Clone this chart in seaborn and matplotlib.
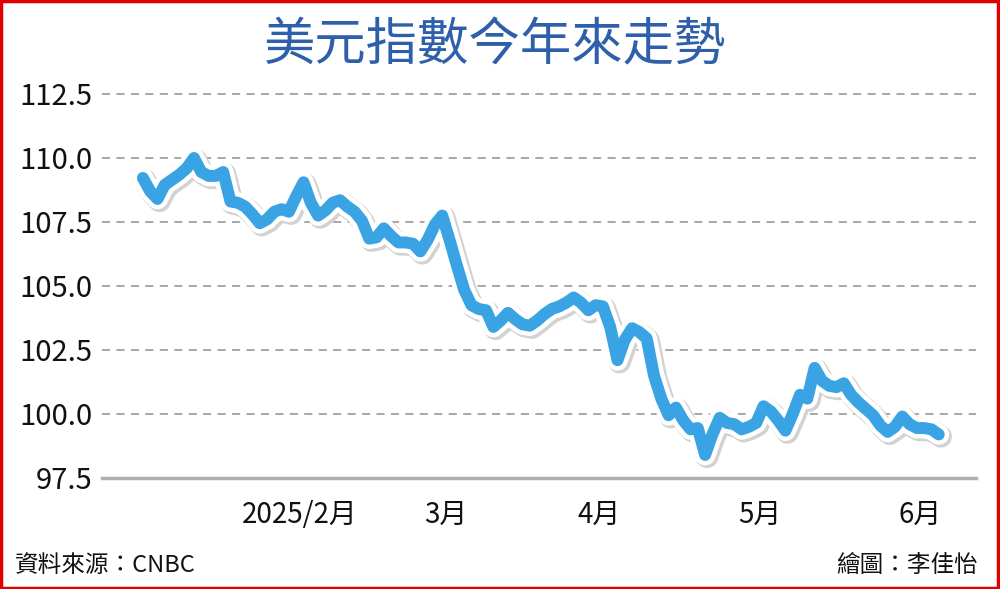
import numpy as np
import pandas as pd
import matplotlib
matplotlib.use('Agg')
from matplotlib import pyplot as plt
from matplotlib import patheffects as pe
from matplotlib.patches import Rectangle
import seaborn as sns

# 美元指數 每個交易日 (2025/1/2 起)
dxy = [109.22, 108.7, 108.4, 108.95, 109.15, 109.35, 109.6, 110.0, 109.45, 109.3,
       109.3, 109.45, 108.3, 108.25, 108.1, 107.8, 107.45, 107.6, 107.9, 108.0,
       107.9, 108.5, 109.05, 108.25, 107.75, 107.95, 108.25, 108.35, 108.1, 107.9,
       107.55, 106.85, 106.9, 107.25, 106.95, 106.7, 106.7, 106.65, 106.35, 106.8,
       107.4, 107.75, 106.8, 105.8, 104.85, 104.25, 104.1, 104.05, 103.4, 103.65,
       103.95, 103.7, 103.5, 103.45, 103.65, 103.9, 104.1, 104.2, 104.35, 104.55,
       104.35, 104.05, 104.25, 104.2, 103.4, 102.1, 102.9, 103.35, 103.2, 102.95,
       101.5, 100.6, 99.95, 100.25, 99.75, 99.4, 99.45, 98.4, 99.2, 99.85,
       99.65, 99.6, 99.4, 99.5, 99.65, 100.3, 100.1, 99.75, 99.35, 100.0,
       100.75, 100.6, 101.8, 101.3, 101.1, 101.05, 101.2, 100.75, 100.45, 100.2,
       99.95, 99.55, 99.3, 99.5, 99.9, 99.6, 99.45, 99.45, 99.4, 99.2]
dates = pd.bdate_range('2025-01-02', periods=len(dxy))

month_starts = ['2025-02-01', '2025-03-01', '2025-04-01', '2025-05-01', '2025-06-01']
month_labels = ['2025/2月', '3月', '4月', '5月', '6月']
y_ticks = [97.5, 100.0, 102.5, 105.0, 107.5, 110.0, 112.5]

df = pd.DataFrame({'day': np.arange(len(dxy)), 'dxy': dxy})
tick_pos = [dates.searchsorted(pd.Timestamp(m)) - 0.5 for m in month_starts]

sns.set_style('white')
plt.rcParams['font.family'] = ['Noto Sans CJK TC', 'DejaVu Sans']

fig = plt.figure(figsize=(10, 5.89), dpi=100)
ax = fig.add_axes([0.102, 0.1885, 0.874, 0.6563])

sns.lineplot(data=df, x='day', y='dxy', ax=ax, color='#3aa3e3', linewidth=8.6,
             solid_joinstyle='round', solid_capstyle='round', zorder=5)
ln = ax.lines[-1]
ln.set_path_effects([
    pe.Stroke(linewidth=16, foreground='#d2d2d2', offset=(1.5, -1.5)),
    pe.Stroke(linewidth=15, foreground='white'),
    pe.Normal(),
])

ax.set_xlim(-5.6, 114.1)
ax.set_ylim(97.5, 112.6)
ax.set_yticks(y_ticks)
ax.set_yticklabels([f'{v:.1f}' for v in y_ticks])
ax.set_xticks(tick_pos)
ax.set_xticklabels(month_labels)
ax.set_xlabel('')
ax.set_ylabel('')

for v in y_ticks[1:]:
    ax.axhline(v, color='#a0a0a0', linewidth=1.3, linestyle=(0, (4.5, 3.5)), zorder=1)

for s in ['top', 'right', 'left']:
    ax.spines[s].set_visible(False)
ax.spines['bottom'].set_color('#b0b0b0')
ax.spines['bottom'].set_linewidth(2.5)

ax.tick_params(axis='y', length=0, pad=7, labelsize=21, labelcolor='#111111')
ax.tick_params(axis='x', direction='out', length=8, width=1.5, color='#b0b0b0',
               pad=8, labelsize=20, labelcolor='#111111')
for t in ax.get_xticklabels() + ax.get_yticklabels():
    t.set_fontweight('medium')

fig.text(0.495, 1 - 46 / 589, '美元指數今年來走勢', ha='center', va='center',
         fontsize=37, color='#2e5faa', fontweight='medium')
fig.text(0.015, 1 - 566 / 589, '資料來源：CNBC', ha='left', va='center',
         fontsize=17, color='#111111')
fig.text(0.978, 1 - 566 / 589, '繪圖：李佳怡', ha='right', va='center',
         fontsize=17, color='#111111')

fig.patches.append(Rectangle((0.001, 0.002), 0.997, 0.996, transform=fig.transFigure,
                             fill=False, edgecolor='#e00000', linewidth=2.5))

fig.savefig('out.png', dpi=100)
